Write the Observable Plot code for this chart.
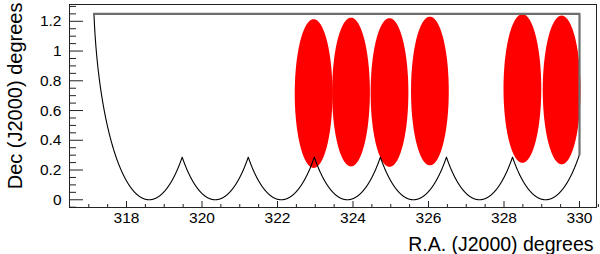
<!DOCTYPE html>
<html><head><meta charset="utf-8">
<script src="https://cdn.jsdelivr.net/npm/d3@7"></script>
<script src="https://cdn.jsdelivr.net/npm/@observablehq/plot@0.6"></script>
<style>body{margin:0;background:#fff} svg{display:block}</style>
</head><body><div id="chart"></div>
<script>
// Axis ticks and labels
const xTicks = [318, 320, 322, 324, 326, 328, 330];
const xMinorTicks = [317, 317.5, 318.5, 319, 319.5, 320.5, 321, 321.5, 322.5, 323, 323.5, 324.5, 325, 325.5, 326.5, 327, 327.5, 328.5, 329, 329.5, 330.5];
const yTicks = [0, 0.2, 0.4, 0.6, 0.8, 1, 1.2];
const yTickLabels = ["0", "0.2", "0.4", "0.6", "0.8", "1", "1.2"];
const yMinorTicks = [-0.05, 0.05, 0.1, 0.15, 0.25, 0.3, 0.35, 0.45, 0.5, 0.55, 0.65, 0.7, 0.75, 0.85, 0.9, 0.95, 1.05, 1.1, 1.15, 1.25, 1.3];
const xLabel = "R.A. (J2000) degrees";
const yLabel = "Dec (J2000) degrees";

// Survey coverage: union of circular fields (lower boundary), closed at top and right
const fieldRA = [318.6, 320.35, 322.1, 323.85, 325.6, 327.35, 329.1];
const fieldRadius = 1.48;
const coverTopDec = 1.25;
const coverRightRA = 330;

// Observed pointings (red disks)
const obsRA = [322.97, 323.96, 324.98, 326.05, 328.5, 329.54];
const obsDec = [0.711, 0.721, 0.718, 0.728, 0.745, 0.735];
const obsRadius = 0.5;

const W = 600, H = 254, mL = 69, mR = 4, mT = 4, mB = 47;
const plotW = W - mL - mR, plotH = H - mT - mB;

// Geometry built from the field circles
const arcDec = (c, x) => fieldRadius - Math.sqrt(Math.max(0, fieldRadius * fieldRadius - (x - c) * (x - c)));
const startRA = fieldRA[0] - Math.sqrt(fieldRadius ** 2 - (fieldRadius - coverTopDec) ** 2);
const boundary = [];
fieldRA.forEach((c, i) => {
  const lo = i === 0 ? startRA : (fieldRA[i - 1] + c) / 2;
  const hi = i === fieldRA.length - 1 ? coverRightRA : (c + fieldRA[i + 1]) / 2;
  const n = 600;
  for (let k = 0; k <= n; k++) {
    const x = lo + (hi - lo) * k / n;
    boundary.push({x, y: arcDec(c, x)});
  }
});
const topEdge = [
  {x: startRA, y: coverTopDec},
  {x: coverRightRA, y: coverTopDec},
  {x: coverRightRA, y: arcDec(fieldRA[fieldRA.length - 1], coverRightRA)}
];

const disks = obsRA.flatMap((c, i) => d3.range(0, 181).map(k => {
  const t = Math.PI * k / 180;
  const h = obsRadius * Math.sin(t);
  return {id: i, x: c - obsRadius * Math.cos(t), y1: obsDec[i] - h, y2: obsDec[i] + h};
}));

const chart = Plot.plot({
  width: W, height: H,
  marginLeft: mL, marginRight: mR, marginTop: mT, marginBottom: mB,
  style: {fontFamily: "'Liberation Sans', Arial, Helvetica, sans-serif", color: "#000", background: "#fff"},
  x: {domain: [316.49, 330.45]},
  y: {domain: [-0.052, 1.313]},
  marks: [
    Plot.areaY(disks, {x: "x", y1: "y1", y2: "y2", z: "id", fill: "#ff0000"}),
    Plot.line(boundary, {x: "x", y: "y", stroke: "#000", strokeWidth: 1.1}),
    Plot.line(topEdge, {x: "x", y: "y", stroke: "#6e6e6e", strokeWidth: 2.2}),
    Plot.frame({stroke: "#222", strokeWidth: 1}),
    Plot.tickX(xTicks, {x: d => d, insetTop: plotH - 6, stroke: "#222"}),
    Plot.tickX(xMinorTicks, {x: d => d, insetTop: plotH - 3, stroke: "#222"}),
    Plot.tickY(yTicks, {y: d => d, insetRight: plotW - 14, stroke: "#222"}),
    Plot.tickY(yMinorTicks, {y: d => d, insetRight: plotW - 7, stroke: "#222"}),
    Plot.axisX(xTicks, {tickSize: 0, tickPadding: 4, fontSize: 15.5, tickFormat: d => String(d), label: null}),
    Plot.axisY(yTicks, {tickSize: 0, tickPadding: 8, fontSize: 15.5, tickFormat: d => yTickLabels[yTicks.indexOf(d)], label: null}),
    Plot.text([xLabel], {text: d => d, frameAnchor: "bottom-right", dx: -3, dy: 43, textAnchor: "end", lineAnchor: "bottom", fontSize: 19.5, fill: "#000"}),
    Plot.text([yLabel], {text: d => d, frameAnchor: "top-left", dx: -48, dy: -2, rotate: -90, textAnchor: "end", lineAnchor: "bottom", fontSize: 20, fill: "#000"})
  ]
});
document.getElementById("chart").appendChild(chart);
</script>
</body></html>
